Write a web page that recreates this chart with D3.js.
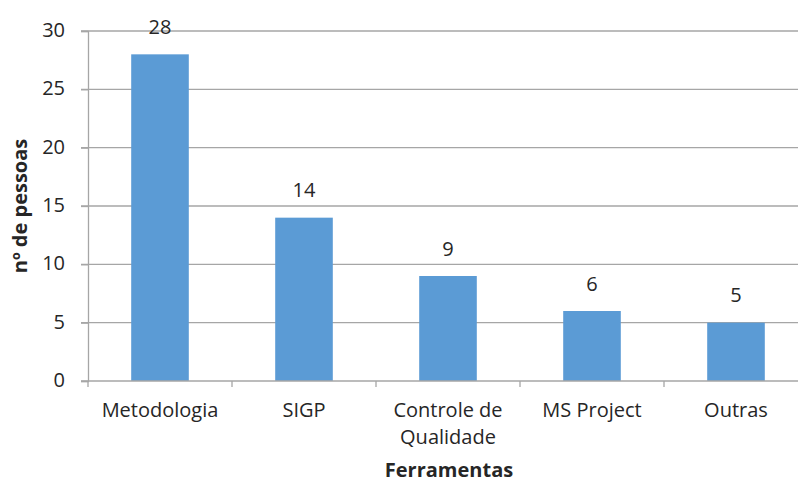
<!DOCTYPE html>
<html>
<head>
<meta charset="utf-8">
<script src="https://cdn.jsdelivr.net/npm/d3@7"></script>
<style>
body { margin: 0; background: #fff; }
text { font-family: "Open Sans", "Noto Sans", sans-serif; fill: #262626; }
</style>
</head>
<body>
<svg id="chart" width="798" height="483"></svg>
<script>
const categories = [["Metodologia"], ["SIGP"], ["Controle de", "Qualidade"], ["MS Project"], ["Outras"]];
const values = [28, 14, 9, 6, 5];
const yTicks = [0, 5, 10, 15, 20, 25, 30];
const xTitle = "Ferramentas";
const yTitle = "nº de pessoas";

(function () {
const svg = d3.select("#chart");
const pLeft = 88, pRight = 808, pTop = 31, pBottom = 381;
const keys = categories.map(c => c.join(" "));
const fs = 20;

const x = d3.scaleBand().domain(keys).range([pLeft, pRight]).paddingInner(0.6).paddingOuter(0.3);
const y = d3.scaleLinear().domain([0, 30]).range([pBottom, pTop]);

// gridlines
svg.append("g").selectAll("line").data(yTicks.filter(t => t > 0)).join("line")
  .attr("x1", pLeft - 7).attr("x2", 798)
  .attr("y1", d => y(d)).attr("y2", d => y(d))
  .attr("stroke", "#a6a6a6").attr("stroke-width", 1.3);

// bars
svg.append("g").selectAll("rect").data(values).join("rect")
  .attr("x", (d, i) => x(keys[i]))
  .attr("width", x.bandwidth())
  .attr("y", d => y(d))
  .attr("height", d => y(0) - y(d))
  .attr("fill", "#5b9bd5");

// y axis
const yAxis = svg.append("g").attr("transform", `translate(${pLeft},0)`)
  .call(d3.axisLeft(y).tickValues(yTicks).tickSize(7).tickPadding(16));
yAxis.select(".domain").attr("stroke", "#a6a6a6").attr("stroke-width", 1.3);
yAxis.selectAll(".tick line").attr("stroke", "#a6a6a6").attr("stroke-width", 1.3);
yAxis.selectAll("text").attr("font-size", fs).attr("fill", "#262626")
  .attr("font-family", "'Open Sans', sans-serif").attr("dy", "0.28em");

// x axis baseline and ticks
const step = x.step();
const xTickPos = d3.range(keys.length + 1).map(i => pLeft + i * step);
svg.append("line").attr("x1", pLeft - 7).attr("x2", 798).attr("y1", pBottom).attr("y2", pBottom)
  .attr("stroke", "#a6a6a6").attr("stroke-width", 1.3);
svg.append("g").selectAll("line").data(xTickPos).join("line")
  .attr("x1", d => d).attr("x2", d => d).attr("y1", pBottom).attr("y2", pBottom + 6)
  .attr("stroke", "#a6a6a6").attr("stroke-width", 1.3);

// category labels
const lab = svg.append("g").selectAll("text").data(categories).join("text")
  .attr("x", (d, i) => x(keys[i]) + x.bandwidth() / 2)
  .attr("y", 417)
  .attr("text-anchor", "middle").attr("font-size", fs);
lab.selectAll("tspan").data(d => d).join("tspan")
  .attr("x", function() { return this.parentNode.getAttribute("x"); })
  .attr("dy", (d, i) => i === 0 ? 0 : 27)
  .text(d => d);

// data labels
svg.append("g").selectAll("text").data(values).join("text")
  .attr("x", (d, i) => x(keys[i]) + x.bandwidth() / 2)
  .attr("y", d => y(d) - 20.5)
  .attr("text-anchor", "middle").attr("font-size", fs)
  .text(d => d);

// axis titles
svg.append("text").attr("x", 449).attr("y", 477).attr("text-anchor", "middle")
  .attr("font-size", fs).attr("font-weight", "bold").text(xTitle);
svg.append("text").attr("transform", "translate(27,206) rotate(-90)").attr("text-anchor", "middle")
  .attr("font-size", fs).attr("font-weight", "bold").text(yTitle);
})();
</script>
</body>
</html>
